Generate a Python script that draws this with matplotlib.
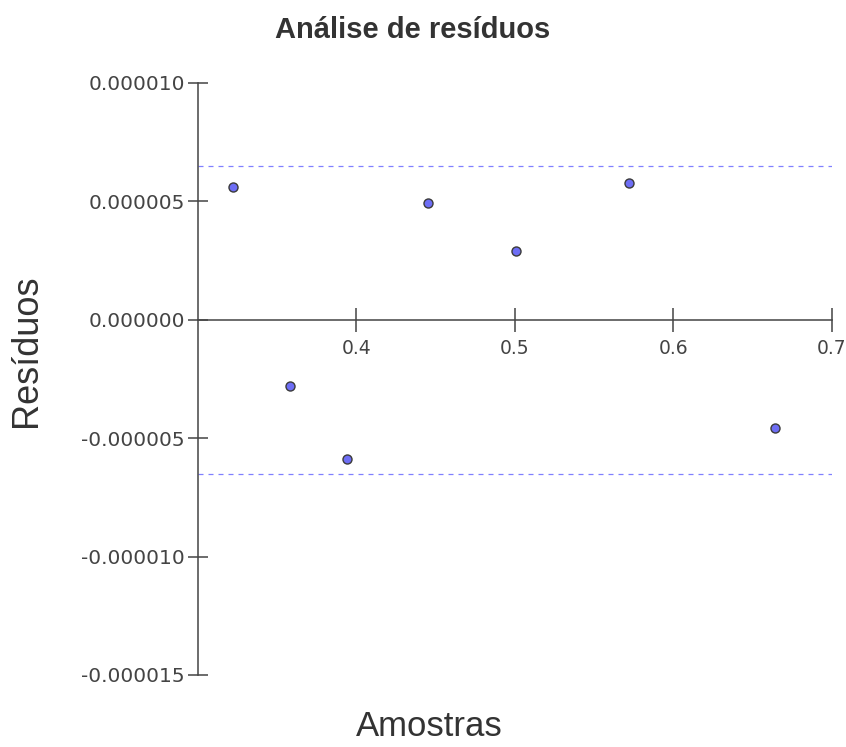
import matplotlib
matplotlib.use("Agg")
import matplotlib.pyplot as plt
from matplotlib.ticker import FormatStrFormatter

# amostras e residuos do ajuste
amostras = [0.3222, 0.3582, 0.3943, 0.4449, 0.5006, 0.5722, 0.6639]
residuos = [5.62e-6, -2.81e-6, -5.89e-6, 4.92e-6, 2.89e-6, 5.77e-6, -4.56e-6]
limite = 6.5e-6  # faixa de tolerancia (+/-)

xticks = [0.4, 0.5, 0.6, 0.7]
yticks = [-1.5e-5, -1.0e-5, -5e-6, 0.0, 5e-6, 1.0e-5]

cinza = "#444444"

fig = plt.figure(figsize=(8.46, 7.47), dpi=100)
ax = fig.add_axes([0.2340, 0.0964, 0.7494, 0.7925])

ax.set_xlim(0.3, 0.7)
ax.set_ylim(-1.5e-5, 1.0e-5)

# linhas de limite tracejadas
for v in (limite, -limite):
    ax.axhline(v, color="#8080ff", lw=0.9, ls=(0, (4, 4)), zorder=1)

ax.plot(amostras, residuos, ls="none", marker="o", ms=6.5,
        mfc="#6e6ef5", mec="#3a3a3a", mew=1.0, zorder=3)

# eixos cruzando no zero
for s in ("top", "right"):
    ax.spines[s].set_visible(False)
ax.spines["bottom"].set_position(("data", 0))
ax.spines["left"].set_color(cinza)
ax.spines["bottom"].set_color(cinza)
ax.spines["left"].set_linewidth(1.1)
ax.spines["bottom"].set_linewidth(1.1)

ax.set_xticks(xticks)
ax.set_yticks(yticks)
ax.yaxis.set_major_formatter(FormatStrFormatter("%.6f"))
ax.xaxis.set_major_formatter(FormatStrFormatter("%.1f"))
ax.tick_params(axis="y", direction="inout", length=15, width=1.1,
               color=cinza, labelcolor=cinza, labelsize=14.5, pad=2)
ax.tick_params(axis="x", direction="inout", length=17, width=1.1,
               color=cinza, labelcolor=cinza, labelsize=13.5, pad=5)

fig.text(0.488, 0.960, "Análise de resíduos", ha="center", va="center",
         fontsize=21, fontweight="bold", color="#333333",
         family="Liberation Sans")
fig.text(0.031, 0.531, "Resíduos", ha="center", va="center", rotation=90,
         fontsize=26, color="#333333", family="Liberation Sans")
fig.text(0.508, 0.027, "Amostras", ha="center", va="center",
         fontsize=25, color="#333333", family="Liberation Sans")

fig.savefig("out.png", dpi=100)
